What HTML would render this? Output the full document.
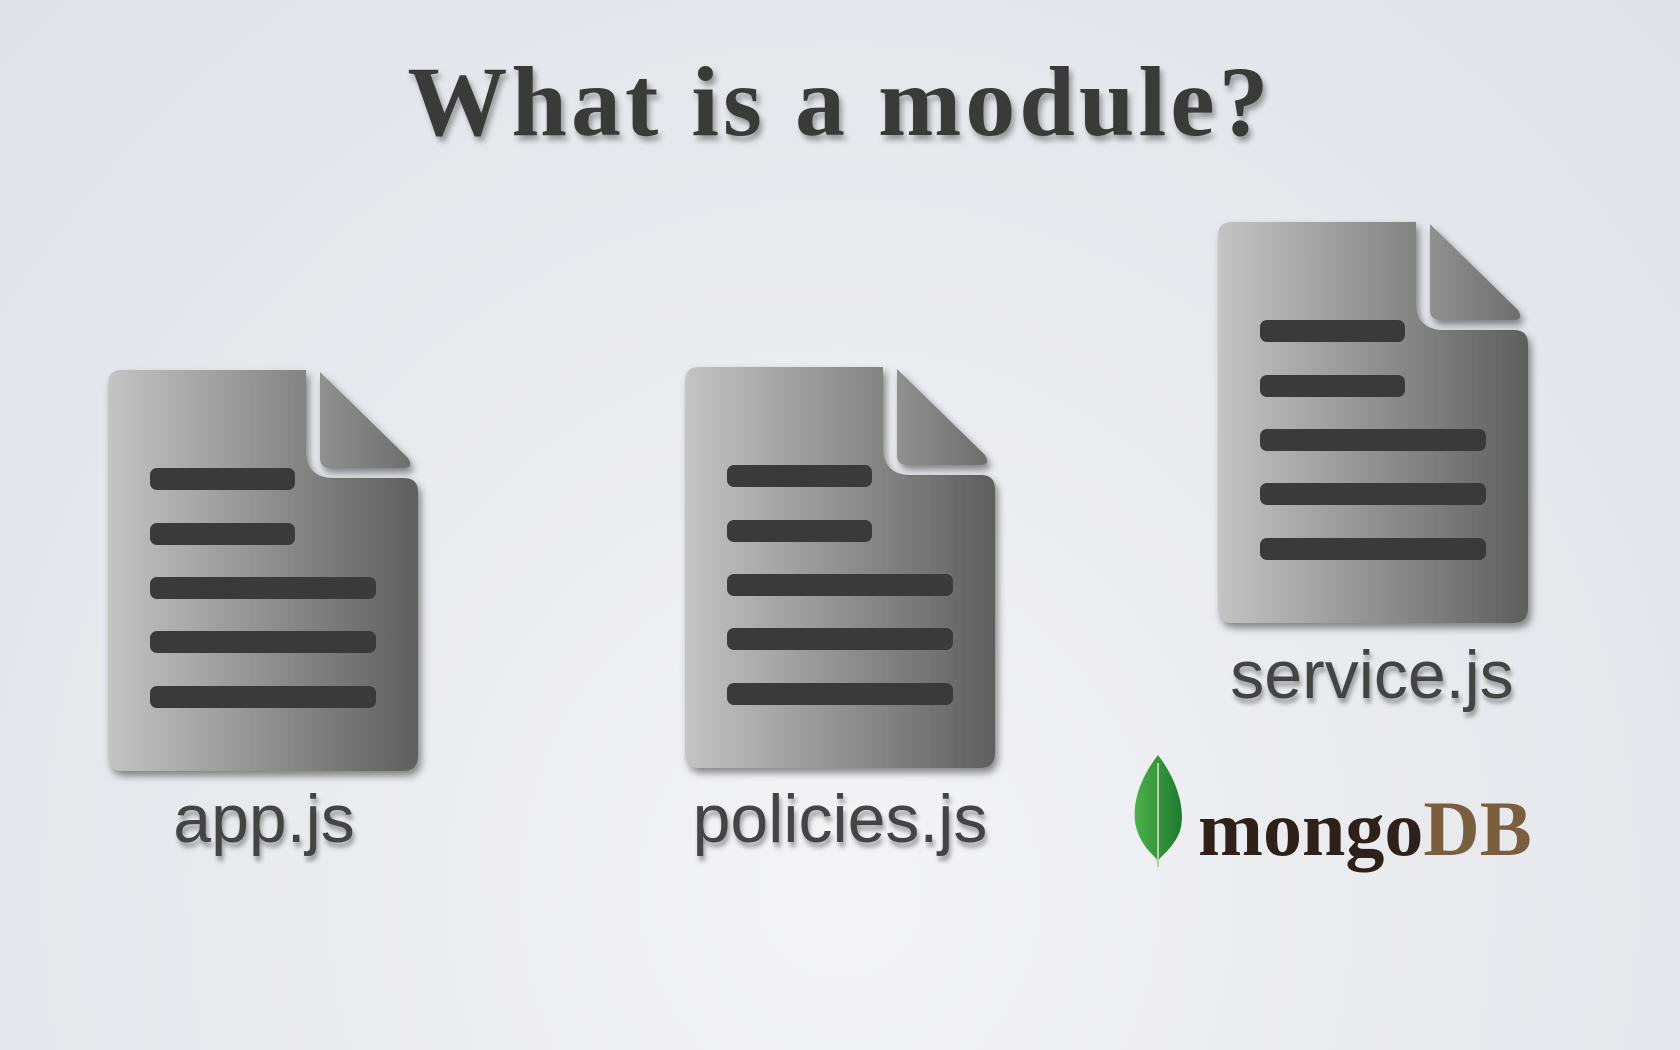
<!DOCTYPE html>
<html><head><meta charset="utf-8"><style>
html,body{margin:0;padding:0}
body{width:1680px;height:1050px;overflow:hidden;position:relative;
background:radial-gradient(ellipse at 50% 85%,#f4f4f6 0%,#eaebef 45%,#dfe2e8 100%);
font-family:"Liberation Sans",sans-serif}
.t{position:absolute;white-space:nowrap;text-align:center}
.title{left:0;width:1680px;top:44px;font-family:"Liberation Serif",serif;font-weight:bold;font-size:100px;color:#3a3a3a;text-shadow:3px 5px 6px rgba(0,0,0,.35);letter-spacing:4px}
.lbl{font-size:68px;color:#444;text-shadow:2px 5px 5px rgba(0,0,0,.35);letter-spacing:0px}
svg.doc{position:absolute;width:310px;height:401px;overflow:visible}
</style></head><body>
<div class="t title">What is a module?</div>

<svg width="0" height="0" style="position:absolute">
<defs>
<linearGradient id="g" x1="0" x2="1" y1="0" y2="0"><stop offset="0" stop-color="#c4c4c4"/><stop offset="1" stop-color="#5e5e5e"/></linearGradient>
<linearGradient id="g2" x1="0" x2="1" y1="0" y2="0"><stop offset="0" stop-color="#909090"/><stop offset="1" stop-color="#6e6e6e"/></linearGradient>
<filter id="sh" x="-10%" y="-10%" width="130%" height="130%"><feDropShadow dx="3" dy="5" stdDeviation="4" flood-opacity="0.45"/></filter>
<g id="doc">
<path d="M14,0 H198 V80 Q198,108 226,108 H296 Q310,108 310,122 V386 Q310,401 295,401 H15 Q0,401 0,386 V14 Q0,0 14,0 Z" fill="url(#g)" filter="url(#sh)"/>
<path d="M212,2 L300,88 Q306,98 296,98 H222 Q212,98 212,88 Z" fill="url(#g2)" filter="url(#sh)"/>
<g fill="#3a3a3a">
<rect x="42" y="98" width="145" height="22" rx="7"/>
<rect x="42" y="153" width="145" height="22" rx="7"/>
<rect x="42" y="207" width="226" height="22" rx="7"/>
<rect x="42" y="261" width="226" height="22" rx="7"/>
<rect x="42" y="316" width="226" height="22" rx="7"/>
</g>
</g>
</defs></svg>

<svg class="doc" style="left:108px;top:370px" viewBox="0 0 310 401"><use href="#doc"/></svg>
<svg class="doc" style="left:685px;top:367px" viewBox="0 0 310 401"><use href="#doc"/></svg>
<svg class="doc" style="left:1218px;top:222px" viewBox="0 0 310 401"><use href="#doc"/></svg>

<div class="t lbl" style="left:64px;width:400px;top:780px">app.js</div>
<div class="t lbl" style="left:640px;width:400px;top:780px">policies.js</div>
<div class="t lbl" style="left:1172px;width:400px;top:636px">service.js</div>

<svg style="position:absolute;left:1128px;top:753px" width="60" height="116" viewBox="0 0 60 116">
<defs><linearGradient id="lf" x1="0" x2="1"><stop offset="0" stop-color="#4cb04a"/><stop offset="1" stop-color="#1f7a2e"/></linearGradient></defs>
<path d="M30,2 C8,30 2,60 10,80 C16,96 26,102 30,108 C34,102 46,94 52,78 C58,58 50,28 30,2 Z" fill="url(#lf)"/>
<path d="M30,10 L30,114" stroke="#bca" stroke-width="2"/>
</svg>
<div class="t" style="left:1198px;top:784px;font-family:'Liberation Serif',serif;font-weight:bold;font-size:78px;color:#2e211a;letter-spacing:0px">mongo<span style="color:#7a5f3e">DB</span></div>
</body></html>
